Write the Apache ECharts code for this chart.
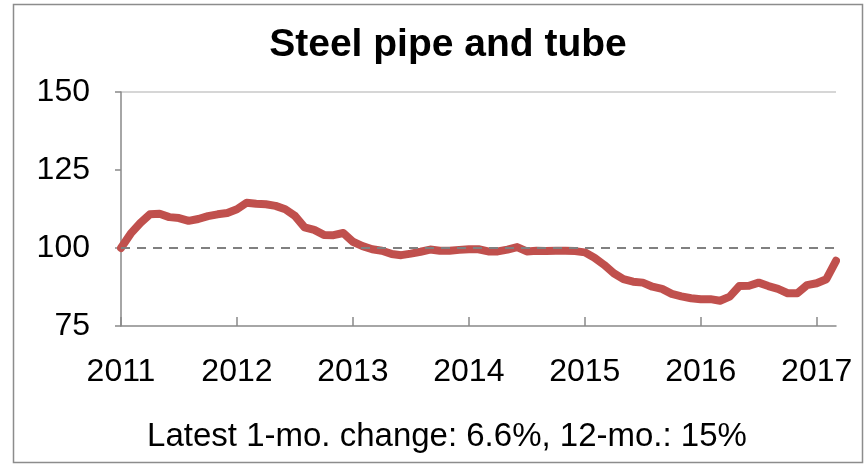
<!DOCTYPE html>
<html><head><meta charset="utf-8">
<script src="https://cdn.jsdelivr.net/npm/echarts@6/dist/echarts.min.js"></script>
<style>html,body{margin:0;padding:0;background:#fff}#c{width:866px;height:466px}</style>
</head><body><div id="c"></div>
<script>
const titleText = "Steel pipe and tube";
const footerText = "Latest 1-mo. change: 6.6%, 12-mo.: 15%";
const startYear = 2011;
const yTicks = [75, 100, 125, 150];
const refValue = 100;
// monthly index values, Jan 2011 .. Mar 2017
const values = [
  100.0, 104.6, 108.0, 110.8, 111.0, 109.9, 109.6, 108.7, 109.3, 110.2, 110.8, 111.2,
  112.4, 114.5, 114.2, 114.0, 113.5, 112.4, 110.3, 106.6, 105.8, 104.2, 104.1, 104.8,
  102.0, 100.6,  99.6,  99.1,  98.1,  97.7,  98.2,  98.8,  99.5,  99.1,  99.1,  99.4,
   99.6,  99.6,  98.9,  98.9,  99.5, 100.3,  98.9,  99.1,  99.0,  99.1,  99.1,  99.0,
   98.6,  96.9,  94.6,  91.9,  90.0,  89.2,  88.9,  87.6,  86.9,  85.3,  84.5,  83.9,
   83.6,  83.6,  83.1,  84.4,  87.8,  87.9,  88.9,  87.8,  86.9,  85.5,  85.5,  88.1,
   88.7,  90.0,  95.9
];
const months = values.map((v, i) => {
  const y = startYear + Math.floor(i / 12);
  const m = (i % 12) + 1;
  return y + "-" + (m < 10 ? "0" + m : m);
});
const yearLabels = months.map(m => m.endsWith("-01") ? m.slice(0, 4) : "");

const FONT = "'Liberation Sans', 'Noto Sans', sans-serif";
const chart = echarts.init(document.getElementById('c'), null, {renderer: 'canvas'});
chart.setOption({
  animation: false,
  backgroundColor: '#fff',
  title: {
    text: titleText, left: 443, top: 21, textAlign: 'center',
    textStyle: {fontFamily: FONT, fontWeight: 'bold', fontSize: 39, color: '#000'}
  },
  graphic: [
    {type: 'rect', shape: {x: 13.5, y: 4.5, width: 849, height: 458},
     style: {fill: 'none', stroke: '#8c8c8c', lineWidth: 1.5}, silent: true},
    {type: 'text', x: 447, y: 420,
     style: {text: footerText, font: "33px " + FONT, fill: '#000', textAlign: 'center'}}
  ],
  grid: {left: 121, right: 30, top: 92, bottom: 140, containLabel: false},
  xAxis: {
    type: 'category', data: months, boundaryGap: false,
    axisLine: {show: true, lineStyle: {color: '#898989', width: 1.5}},
    axisTick: {show: true, inside: true, length: 9, interval: (i) => i % 12 === 0,
               lineStyle: {color: '#898989', width: 1.5}},
    axisLabel: {interval: (i) => i % 12 === 0, formatter: (v, i) => yearLabels[i],
                margin: 30, fontFamily: FONT, fontSize: 32, color: '#000'},
    splitLine: {show: false}
  },
  yAxis: {
    type: 'value', min: yTicks[0], max: yTicks[yTicks.length - 1], interval: 25,
    axisLine: {show: true, lineStyle: {color: '#898989', width: 1.5}},
    axisTick: {show: true, inside: false, length: 6, lineStyle: {color: '#898989', width: 1.5}},
    axisLabel: {margin: 31, fontFamily: FONT, fontSize: 32, color: '#000'},
    splitLine: {show: true, lineStyle: {color: ['transparent', 'transparent', 'transparent', '#c8c8c8'], width: 1.5}}
  },
  series: [
    {
      type: 'line', data: values, showSymbol: false, smooth: false,
      lineStyle: {color: '#C0504D', width: 8, join: 'round', cap: 'round'},
      itemStyle: {color: '#C0504D'},
      markLine: {
        silent: true, symbol: 'none', label: {show: false},
        lineStyle: {color: '#808080', type: [9, 7], width: 2.2},
        data: [{yAxis: refValue}]
      },
      z: 3
    }
  ]
});
</script></body></html>
